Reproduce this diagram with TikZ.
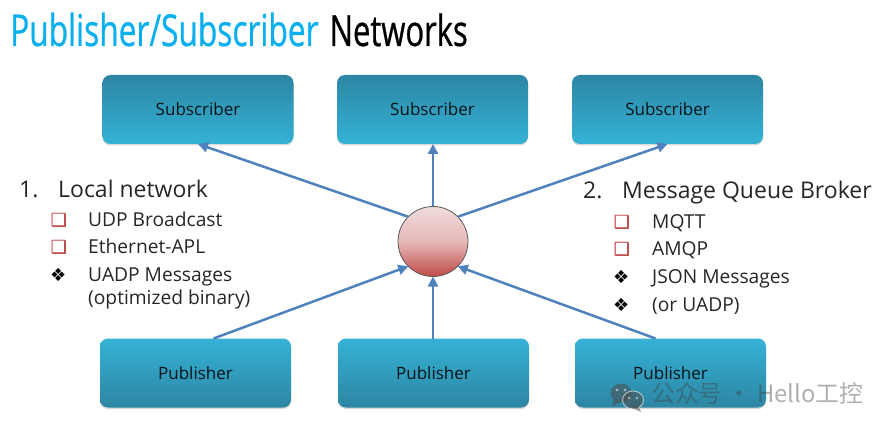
\documentclass[tikz,border=0pt]{standalone}
\usepackage{fontspec}
\setmainfont{Open Sans}
\newfontfamily\titlefont[FakeStretch=0.72,FakeBold=0.6]{Open Sans}
\newfontfamily\symfont{DejaVu Sans}
\newfontfamily\symboldfont[FakeBold=1.2]{DejaVu Sans}
\newfontfamily\cjkfont{Noto Sans CJK SC}
\usetikzlibrary{arrows.meta,shadows}
\definecolor{boxdark}{HTML}{2C86A3}
\definecolor{boxlight}{HTML}{35B2D6}
\definecolor{arrowblue}{HTML}{4F81BD}
\definecolor{titleblue}{HTML}{0AB0EE}
\definecolor{hubtop}{HTML}{F0DCDC}
\definecolor{hubmid}{HTML}{E6B9B8}
\definecolor{hubbot}{HTML}{BF4A48}
\definecolor{bulletred}{HTML}{C0504D}
\tikzset{
  x=1pt,y=-1pt,
  basebox/.style={minimum width=191pt,minimum height=69pt,inner sep=0pt,outer sep=0pt,
    rounded corners=8pt,text=black!85!boxdark,font=\fontsize{17}{17}\selectfont,
    drop shadow={opacity=.3,shadow xshift=0pt,shadow yshift=-1.5pt}},
  subbox/.style={basebox,top color=boxdark,bottom color=boxlight},
  pubbox/.style={basebox,top color=boxlight,bottom color=boxdark},
  hubnode/.style={circle,minimum size=70pt,inner sep=0pt,outer sep=0pt,draw=black!65,line width=.8pt,
    top color=hubtop,bottom color=hubbot,middle color=hubmid},
  flow/.style={draw=arrowblue,line width=2.5pt,-{Triangle[length=10pt,width=10pt]}},
  head/.style={anchor=base west,inner sep=0pt,font=\fontsize{23}{23}\selectfont,text=black!85},
  item/.style={anchor=base west,inner sep=0pt,font=\fontsize{19.2}{19.2}\selectfont,text=black!85},
  redmark/.style={anchor=base west,inner sep=0pt,text=bulletred,font=\symboldfont\fontsize{18}{18}\selectfont},
  blackmark/.style={anchor=base west,inner sep=0pt,text=black,font=\symfont\fontsize{18}{18}\selectfont},
  titlepart/.style={anchor=base west,inner sep=0pt,font=\titlefont\fontsize{44}{44}\selectfont},
  titlerest/.style={anchor=base west,inner sep=0pt,font=\titlefont\fontsize{43}{44}\selectfont},
  mark text/.style={anchor=base west,inner sep=0pt,opacity=.42,text=black!75,font=\cjkfont\fontsize{23.8}{24}\selectfont}
}
\begin{document}
\begin{tikzpicture}
\useasboundingbox (0,0) rectangle (890,430);
% title
\node[titlepart,text=titleblue] (t1) at (10,46) {Publisher/Subscriber};
\node[titlerest,text=black] (t2) at (329.5,46) {Networks};
% boxes
\node[subbox] (s1) at (198,109.5) {Subscriber};
\node[subbox] (s2) at (432.5,109.5) {Subscriber};
\node[subbox] (s3) at (667.5,109.5) {Subscriber};
\node[pubbox,text depth=0pt,yshift=-0.5pt] (p1) at (195.5,372.5) {Publisher};
\node[pubbox,text depth=0pt,yshift=-0.5pt] (p2) at (433.5,372.5) {Publisher};
\node[pubbox,text depth=0pt,yshift=-0.5pt] (p3) at (670.5,372.5) {Publisher};
\node[hubnode] (hub) at (433,241.5) {};
% connectors
\draw[flow] (hub.135) -- (s1.south);
\draw[flow] (hub.north) -- (hub.north |- s2.south);
\draw[flow] (hub.45) -- (s3.south);
\draw[flow] ([xshift=18pt]p1.north) -- (hub.-135);
\draw[flow] (hub.south |- p2.north) -- (hub.south);
\draw[flow] ([xshift=-15pt]p3.north) -- (hub.-45);
% left list
\node[head] (ln) at (19,197) {1.};
\node[head] (lt) at (58,197) {Local network};
\node[redmark] (lb1) at (50.5,226) {❑};
\node[item] (l1) at (88,226) {UDP Broadcast};
\node[redmark] (lb2) at (50.5,253) {❑};
\node[item] (l2) at (88,253) {Ethernet-APL};
\node[blackmark] (lb3) at (50,281) {❖};
\node[item] (l3) at (88,281) {UADP Messages};
\node[item] (l4) at (88,304) {(optimized binary)};
% right list
\node[head] (rn) at (583,199) {2.};
\node[head] (rt) at (622,199) {Message Queue Broker};
\node[redmark] (rb1) at (613.5,228) {❑};
\node[item] (r1) at (652,228) {MQTT};
\node[redmark] (rb2) at (613.5,255) {❑};
\node[item] (r2) at (652,255) {AMQP};
\node[blackmark] (rb3) at (613,283) {❖};
\node[item] (r3) at (652,283) {JSON Messages};
\node[blackmark] (rb4) at (613,311) {❖};
\node[item] (r4) at (652,311) {(or UADP)};
% watermark
\begin{scope}[opacity=.55]
\fill[black!70] (621,393) ellipse (10.5 and 9.5);
\fill[black!70] (614,399) -- (612,407) -- (621,401) -- cycle;
\draw[white,line width=1pt,fill=black!70] (633,400) ellipse (10.5 and 9);
\fill[black!70] (638,406) -- (641,412) -- (630,407) -- cycle;
\fill[white] (617,390) circle (1.5) (625,390) circle (1.5) (629,398) circle (1.3) (637,398) circle (1.3);
\end{scope}
\node[mark text] (wm) at (651,402) {公众号 · Hello工控};
\end{tikzpicture}
\end{document}
